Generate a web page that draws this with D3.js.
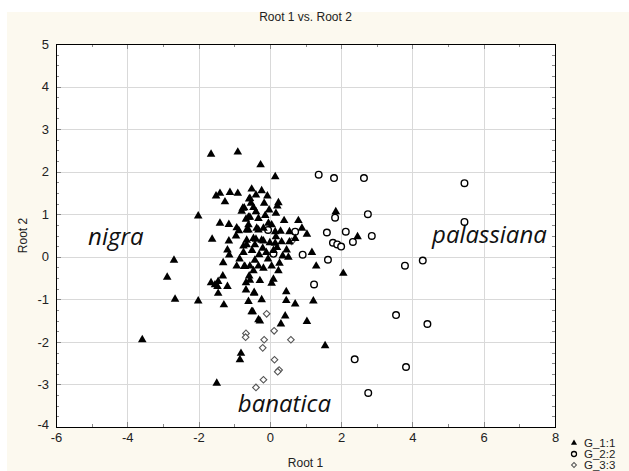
<!DOCTYPE html>
<html>
<head>
<meta charset="utf-8">
<script src="https://cdn.jsdelivr.net/npm/d3@7"></script>
<style>
  body { margin: 0; background: #fff; }
  svg text { font-family: "Liberation Sans", Arial, sans-serif; }
</style>
</head>
<body>
<div id="chart"></div>
<script>
// group 1 (filled triangles)
var g1Points = [
  [-1.65, 2.41], [-0.9, 2.46], [-0.26, 2.16], [0.15, 1.88],
  [-1.51, 1.43], [-1.4, 1.49], [-1.12, 1.51], [-0.9, 1.49], [-1.26, 1.29],
  [-0.51, 1.59], [-0.56, 1.37], [-0.39, 1.45], [-2.01, 0.96], [-0.79, 1.07],
  [-0.72, 1.15], [-0.6, 0.93], [-1.4, 0.79], [-1.15, 0.76], [-0.93, 0.68],
  [-0.95, 0.49], [-0.87, 0.61], [-0.6, 0.63], [-0.37, 0.67], [-1.62, 0.41],
  [-1.15, 0.37], [-0.65, 0.39], [-0.39, 0.41], [-0.74, 0.25],
  [-0.23, 1.55], [-0.07, 1.43], [-0.58, 1.36], [-0.53, 1.26], [-0.16, 1.26],
  [0.24, 1.27], [0.21, 1.19], [-0.46, 1.16], [-0.76, 1.14], [-0.39, 1.06],
  [0.17, 1.02], [-0.13, 0.97], [-0.56, 0.93], [-0.32, 0.9], [-0.67, 0.88],
  [-0.04, 0.79], [0.05, 0.75], [-0.6, 0.75], [0.8, 0.85], [0.9, 0.67],
  [1.04, 0.53], [0.55, 0.59], [0.71, 0.43], [-0.32, 0.63], [-0.18, 0.67],
  [0.15, 0.59], [0.17, 0.47], [-0.65, 0.63], [-0.46, 0.43], [-0.23, 0.39],
  [0.0, 0.33], [0.33, 0.35], [0.55, 0.35], [2.46, 0.47], [1.85, 1.06],
  [-0.74, 0.1], [-0.65, 0.28], [-0.42, 0.28], [-0.18, 0.37], [0.15, 0.32],
  [0.2, 0.22], [0.47, 0.16], [0.52, -0.01], [0.36, 0.02], [1.18, 0.1],
  [1.3, -0.22], [2.06, -0.39], [-0.72, -0.23], [-0.56, -0.22], [-0.42, -0.08],
  [-0.32, -0.22], [-0.18, -0.27], [0.05, -0.22], [0.27, -0.15], [0.24, -0.33],
  [-0.46, -0.33], [-0.56, -0.55], [-0.28, -0.56], [0.05, -0.62], [0.1, -0.53],
  [-0.67, -0.61], [-0.67, -0.78], [-0.44, -0.84], [0.46, -0.82], [-0.23, -1.01],
  [-0.6, -1.05], [0.46, -1.03], [0.71, -1.11], [1.22, -1.04], [-0.48, -1.29],
  [-0.28, -1.51], [0.43, -1.39], [0.31, -1.58], [1.04, -1.52], [1.55, -2.09],
  [-0.81, -2.27], [-0.84, -2.42], [-2.69, -0.08], [-2.88, -0.48], [-2.66, -1.0],
  [-2.01, -1.04], [-3.58, -1.95], [-1.65, -0.61], [-1.54, -0.66], [-1.47, -0.7],
  [-1.45, -0.58], [-1.32, -0.45], [-1.45, -0.86], [-1.19, -0.7], [-1.29, -1.13],
  [-1.31, -0.14], [-1.14, 0.04], [-1.19, 0.16], [-0.93, -0.22], [-0.7, -0.23],
  [-0.58, -0.45], [-0.51, -1.29], [-0.44, -0.86], [-0.32, -1.48], [-1.49, -2.97],
  [-0.1, 0.1], [-0.3, 0.05], [-0.05, -0.05], [0.1, 0.15], [-0.2, 0.2],
  [-0.5, 0.15], [-0.85, -0.05], [0.3, 0.6], [-0.02, 1.1], [0.4, 0.85]
];
// group 2 (open circles)
var g2Points = [
  [1.37, 1.93], [1.8, 1.85], [2.64, 1.85], [5.46, 1.73], [1.83, 0.92],
  [2.75, 1.0], [5.46, 0.82], [2.13, 0.59], [2.86, 0.49], [2.33, 0.35],
  [1.77, 0.33], [1.89, 0.29], [2.0, 0.24], [3.79, -0.21], [4.29, -0.09],
  [3.54, -1.37], [4.42, -1.58], [2.38, -2.41], [3.82, -2.59], [2.76, -3.2],
  [1.6, 0.57], [0.71, 0.59], [0.1, 0.07], [0.92, 0.05], [1.63, -0.07],
  [1.24, -0.65], [-0.05, 0.63]
];
// group 3 (open diamonds)
var g3Points = [
  [-0.09, -1.34], [-0.67, -1.8], [-0.68, -1.89], [0.12, -1.74], [-0.16, -1.95],
  [0.59, -1.95], [-0.2, -2.14], [0.13, -2.42], [0.26, -2.66], [0.22, -2.7],
  [-0.18, -2.89], [-0.39, -3.07], [0.61, 0.36]
];
var xTicks = [-6, -4, -2, 0, 2, 4, 6, 8];
var yTicks = [5, 4, 3, 2, 1, 0, -1, -2, -3, -4];
var legendLabels = ['G_1:1', 'G_2:2', 'G_3:3'];
var speciesLabels = [
  {name: 'nigra', x: -5.1, y: 0.28},
  {name: 'palassiana', x: 4.55, y: 0.33},
  {name: 'banatica', x: -0.9, y: -3.65}
];

(function() {
    var width = 629, height = 471;
    var plotLeft = 56, plotRight = 555, plotTop = 44, plotBottom = 427;

    var svg = d3.select('#chart')
        .append('svg')
        .attr('width', width)
        .attr('height', height);

    // cream panel
    svg.append('rect')
        .attr('x', 7).attr('y', 12)
        .attr('width', width - 7).attr('height', height - 12)
        .style('fill', '#fcf9ef');

    var x = d3.scaleLinear().domain([-6, 8]).range([plotLeft, plotRight]);
    var y = d3.scaleLinear().domain([-4, 5]).range([plotBottom, plotTop]);

    svg.append('rect')
        .attr('x', plotLeft).attr('y', plotTop)
        .attr('width', plotRight - plotLeft).attr('height', plotBottom - plotTop)
        .style('fill', '#fff');

    // grid
    svg.append('g').selectAll('line')
        .data(xTicks.slice(1, -1))
        .enter().append('line')
        .attr('x1', function(d) { return Math.round(x(d)) + 0.5; })
        .attr('x2', function(d) { return Math.round(x(d)) + 0.5; })
        .attr('y1', plotTop).attr('y2', plotBottom)
        .style('stroke', '#d9d9d9');
    svg.append('g').selectAll('line')
        .data(yTicks.slice(1, -1))
        .enter().append('line')
        .attr('y1', function(d) { return Math.round(y(d)) + 0.5; })
        .attr('y2', function(d) { return Math.round(y(d)) + 0.5; })
        .attr('x1', plotLeft).attr('x2', plotRight)
        .style('stroke', '#d9d9d9');

    // inner ticks (major + minor) on all four sides
    var xMinor = d3.range(-6, 8.01, 1);
    var yMinor = d3.range(-4, 5.01, 0.25);
    var tickG = svg.append('g').style('stroke', '#888');
    xMinor.forEach(function(d) {
        var len = (d % 2 === 0) ? 5 : 3;
        var px = Math.round(x(d)) + 0.5;
        tickG.append('line').attr('x1', px).attr('x2', px)
            .attr('y1', plotBottom).attr('y2', plotBottom - len);
        tickG.append('line').attr('x1', px).attr('x2', px)
            .attr('y1', plotTop).attr('y2', plotTop + len);
    });
    yMinor.forEach(function(d) {
        var len = (d % 1 === 0) ? 5 : 3;
        var py = Math.round(y(d)) + 0.5;
        tickG.append('line').attr('y1', py).attr('y2', py)
            .attr('x1', plotLeft).attr('x2', plotLeft + len);
        tickG.append('line').attr('y1', py).attr('y2', py)
            .attr('x1', plotRight).attr('x2', plotRight - len);
    });

    // frame
    svg.append('rect')
        .attr('x', plotLeft + 0.5).attr('y', plotTop + 0.5)
        .attr('width', plotRight - plotLeft).attr('height', plotBottom - plotTop)
        .style('fill', 'none')
        .style('stroke', '#000');

    // axes labels
    var xAxis = d3.axisBottom(x).tickValues(xTicks).tickSize(0).tickPadding(6)
        .tickFormat(function(d) { return String(d); });
    var gx = svg.append('g')
        .attr('transform', 'translate(0,' + plotBottom + ')')
        .call(xAxis);
    gx.select('.domain').remove();
    gx.selectAll('text').style('font-size', '13px').style('fill', '#222')
        .style('font-family', '"Liberation Sans", Arial, sans-serif');

    var yAxis = d3.axisLeft(y).tickValues(yTicks).tickSize(0).tickPadding(7)
        .tickFormat(function(d) { return String(d); });
    var gy = svg.append('g')
        .attr('transform', 'translate(' + plotLeft + ',0)')
        .call(yAxis);
    gy.select('.domain').remove();
    gy.selectAll('text').style('font-size', '13px').style('fill', '#222')
        .style('font-family', '"Liberation Sans", Arial, sans-serif')
        .attr('dy', function(d) { return d === -4 ? '0.1em' : '0.32em'; });

    // titles
    svg.append('text')
        .attr('x', (plotLeft + plotRight) / 2).attr('y', 21)
        .attr('text-anchor', 'middle')
        .style('font-size', '12px').style('fill', '#222')
        .text('Root 1 vs. Root 2');
    svg.append('text')
        .attr('x', (plotLeft + plotRight) / 2).attr('y', 467)
        .attr('text-anchor', 'middle')
        .style('font-size', '12px').style('fill', '#222')
        .text('Root 1');
    svg.append('text')
        .attr('transform', 'translate(27,' + (plotTop + plotBottom) / 2 + ') rotate(-90)')
        .attr('text-anchor', 'middle')
        .style('font-size', '12px').style('fill', '#222')
        .text('Root 2');

    // species labels
    svg.append('g').selectAll('text')
        .data(speciesLabels)
        .enter().append('text')
        .attr('x', function(d) { return x(d.x); })
        .attr('y', function(d) { return y(d.y); })
        .style('font-family', '"Open Sans", "Noto Sans", sans-serif')
        .style('font-style', 'italic')
        .style('font-size', '24px')
        .style('fill', '#111')
        .text(function(d) { return d.name; });

    // markers
    var tri = d3.symbol().type(d3.symbolTriangle).size(32);
    var sq = d3.symbol().type(d3.symbolSquare).size(22);

    var plot = svg.append('g');
    plot.selectAll('path.g3')
        .data(g3Points)
        .enter().append('path')
        .classed('g3', true)
        .attr('d', sq)
        .attr('transform', function(d) {
            return 'translate(' + x(d[0]) + ',' + y(d[1]) + ') rotate(45)';
        })
        .style('fill', '#fff')
        .style('stroke', '#555')
        .style('stroke-width', 1.1);
    plot.selectAll('circle.g2')
        .data(g2Points)
        .enter().append('circle')
        .classed('g2', true)
        .attr('cx', function(d) { return x(d[0]); })
        .attr('cy', function(d) { return y(d[1]); })
        .attr('r', 3.3)
        .style('fill', '#fff')
        .style('stroke', '#000')
        .style('stroke-width', 1.4);
    plot.selectAll('path.g1')
        .data(g1Points)
        .enter().append('path')
        .classed('g1', true)
        .attr('d', tri)
        .attr('transform', function(d) { return 'translate(' + x(d[0]) + ',' + y(d[1]) + ')'; })
        .style('fill', '#000');

    // legend
    var legend = svg.append('g').attr('transform', 'translate(574,443)');
    legendLabels.forEach(function(label, i) {
        var ly = i * 11;
        var mark;
        if (i === 0) {
            mark = legend.append('path').attr('d', d3.symbol().type(d3.symbolTriangle).size(16))
                .attr('transform', 'translate(0,' + ly + ')')
                .style('fill', '#000');
        } else if (i === 1) {
            mark = legend.append('circle').attr('r', 2.5)
                .attr('transform', 'translate(0,' + ly + ')')
                .style('fill', 'none').style('stroke', '#000').style('stroke-width', 1.3);
        } else {
            mark = legend.append('path').attr('d', d3.symbol().type(d3.symbolSquare).size(12))
                .attr('transform', 'translate(0,' + ly + ') rotate(45)')
                .style('fill', 'none').style('stroke', '#555');
        }
        legend.append('text')
            .attr('x', 10).attr('y', ly + 4)
            .style('font-size', '11.5px').style('fill', '#222')
            .text(label);
    });
})();
</script>
</body>
</html>
